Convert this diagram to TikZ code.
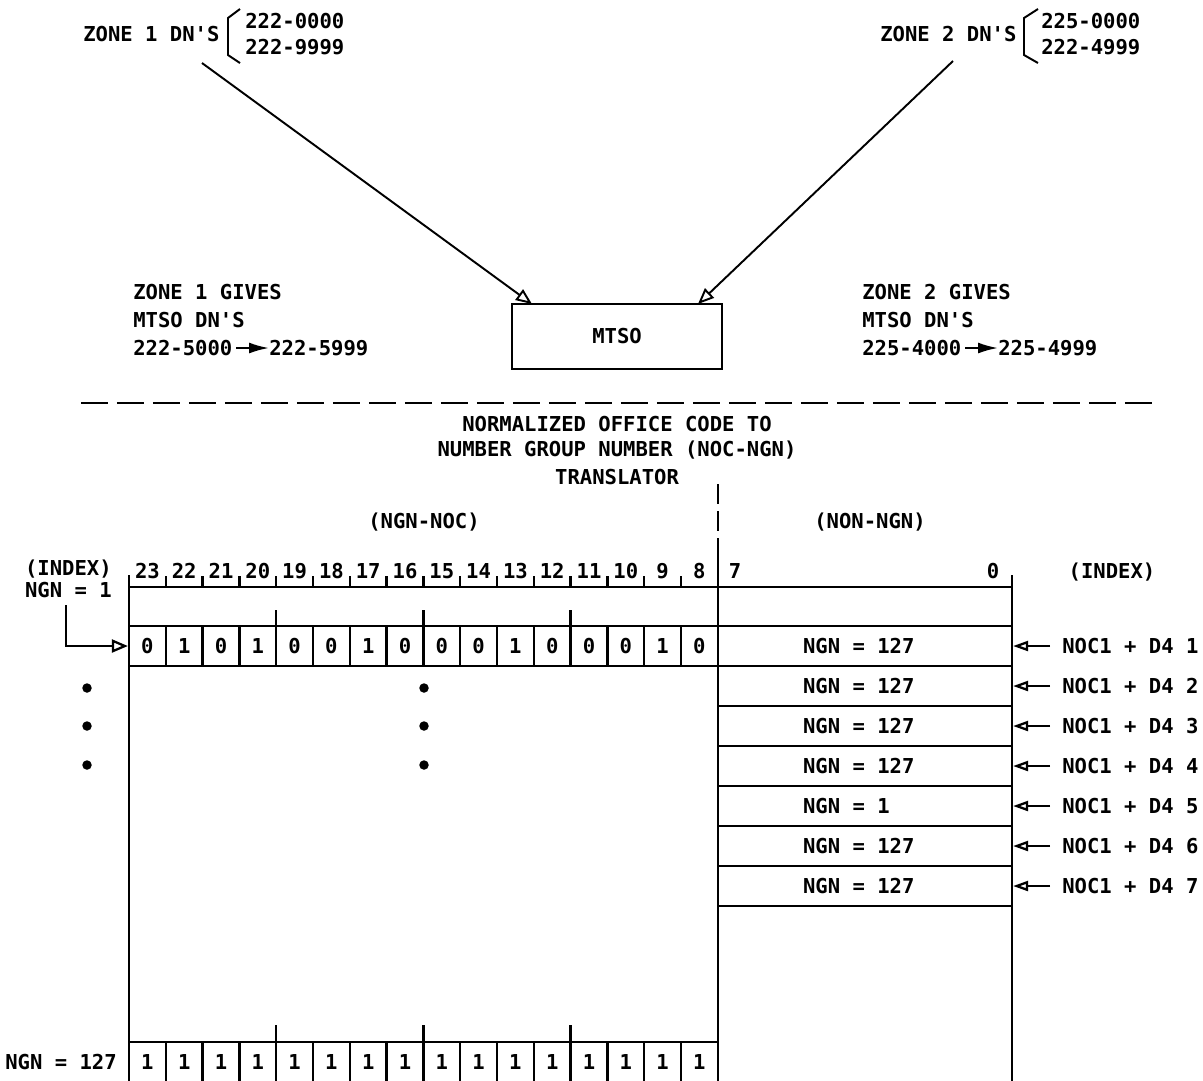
\documentclass[tikz,border=0pt]{standalone}
\usepackage{fontspec}
\setmainfont{DejaVu Sans Mono}
\usetikzlibrary{arrows.meta,calc}
\begin{document}
\begin{tikzpicture}[x=0.02cm,y=-0.02cm,
  every node/.style={font=\bfseries\fontsize{11.7}{14}\selectfont, inner sep=0pt},
  thinline/.style={line width=1.1pt},
  tbl/.style={line width=1.3pt},
  openhead/.style={-{Triangle[open,length=0.32cm,width=0.26cm]}, line width=1.1pt},
  smallhead/.style={-{Triangle[open,length=0.3cm,width=0.2cm]}, line width=1.3pt},
  textarrow/.style={-{Latex[length=0.4cm,width=0.22cm]}, line width=1.2pt, shorten <=2pt},
  cell/.style={draw, line width=1.3pt, minimum width=0.736cm, minimum height=0.8cm},
  rowbox/.style={draw, line width=1.3pt, minimum width=5.88cm, minimum height=0.8cm, inner xsep=1.7cm},
  bigdot/.style={circle, fill, minimum size=0.19cm}
]
\useasboundingbox (0,0) rectangle (1203,1080);

% ---- top part ----
\node[anchor=west] (z1) at (83,34) {ZONE 1 DN\textquotesingle S};
\node[anchor=west] (z1a) at (245,21) {222-0000};
\node[anchor=west] (z1b) at (245,47) {222-9999};
\draw[thinline] (240,9) -- (228,18) -- (228,55) -- (240,63);

\node[anchor=west] (z2) at (880,34) {ZONE 2 DN\textquotesingle S};
\node[anchor=west] (z2a) at (1041,21) {225-0000};
\node[anchor=west] (z2b) at (1041,47) {222-4999};
\draw[thinline] (1038,9) -- (1024,18) -- (1024,55) -- (1038,63);

\node[draw, line width=1.3pt, minimum width=4.2cm, minimum height=1.3cm] (mtso) at (617,336.5) {MTSO};
\coordinate (l1) at (202,63);
\coordinate (l2) at (953,61);
\coordinate (m1) at (532,304);
\coordinate (m2) at (698,304);
\draw[openhead] (l1) -- (m1);
\draw[openhead] (l2) -- (m2);

\node[anchor=west] (g1a) at (133,292) {ZONE 1 GIVES};
\node[anchor=west] (g1b) at (133,320) {MTSO DN\textquotesingle S};
\node[anchor=west] (g1c) at (133,348) {222-5000};
\node[anchor=west] (g1d) at (269,348) {222-5999};
\draw[textarrow] (g1c) -- (g1d);

\node[anchor=west] (g2a) at (862,292) {ZONE 2 GIVES};
\node[anchor=west] (g2b) at (862,320) {MTSO DN\textquotesingle S};
\node[anchor=west] (g2c) at (862,348) {225-4000};
\node[anchor=west] (g2d) at (998,348) {225-4999};
\draw[textarrow] (g2c) -- (g2d);

\draw[line width=1.3pt, dash pattern=on 0.54cm off 0.18cm] (81,403) -- (1153,403);

% ---- title ----
\node (ti1) at (617,424) {NORMALIZED OFFICE CODE TO};
\node (ti2) at (617,450) {NUMBER GROUP NUMBER (NOC-NGN)};
\node (ti3) at (617,477) {TRANSLATOR};

\draw[tbl, dash pattern=on 0.4cm off 0.14cm] (718,484) -- (718,553);
\node (ngnnoc) at (424,522) {(NGN-NOC)};
\node (nonngn) at (870,522) {(NON-NGN)};

\node[anchor=east] (idxl) at (112,569) {(INDEX)};
\node[anchor=east] (ngn1) at (112,590) {NGN = 1};
\node (idxr) at (1112,572) {(INDEX)};
\node (b7) at (735,571) {7};
\node (b0) at (993,571) {0};

\foreach \i in {0,...,15} {
  \pgfmathtruncatemacro\hn{23-\i}
  \node (h\i) at ({129+(\i+0.5)*36.8},571) {\hn};
}
\foreach \i in {1,...,15}
  \draw[tbl] ({129+\i*36.8},576) -- ({129+\i*36.8},587);

% ---- table frame ----
\draw[tbl] (129,575) -- (129,1085);
\draw[tbl] (718,553) -- (718,1085);
\draw[tbl] (1012,575) -- (1012,1085);
\draw[tbl] (129,587) -- (1012,587);
\foreach \i in {4,8,12} {
  \draw[tbl] ({129+\i*36.8},610) -- ({129+\i*36.8},626);
  \draw[tbl] ({129+\i*36.8},1025) -- ({129+\i*36.8},1042);
}

% first row of bits
\foreach \b [count=\i from 0] in {0,1,0,1,0,0,1,0,0,0,1,0,0,0,1,0}
  \node[cell] (a\i) at ({129+(\i+0.5)*36.8},646) {\b};

% last row of bits
\foreach \i in {0,...,15}
  \node[cell] (z\i) at ({129+(\i+0.5)*36.8},1062) {1};

\coordinate (ia) at (66,605);
\draw[openhead, line width=1.3pt] (ia) |- (a0.west);

% right rows
\foreach \v [count=\i] in {127,127,127,127,1,127,127} {
  \node[rowbox] (r\i) at (865,{606+40*\i}) {\makebox[2.48cm][l]{NGN = \v}};
  \node[anchor=west, inner xsep=0.24cm] (n\i) at (1050,{606+40*\i}) {NOC1 + D4 \i};
  \draw[smallhead] (n\i) -- (r\i);
}

% dots
\foreach \y [count=\k] in {688,726,765} {
  \node[bigdot] (dl\k) at (87,\y) {};
  \node[bigdot] (dm\k) at (424,\y) {};
}

\node[anchor=east] (nb) at (117,1062) {NGN = 127};
\end{tikzpicture}
\end{document}
